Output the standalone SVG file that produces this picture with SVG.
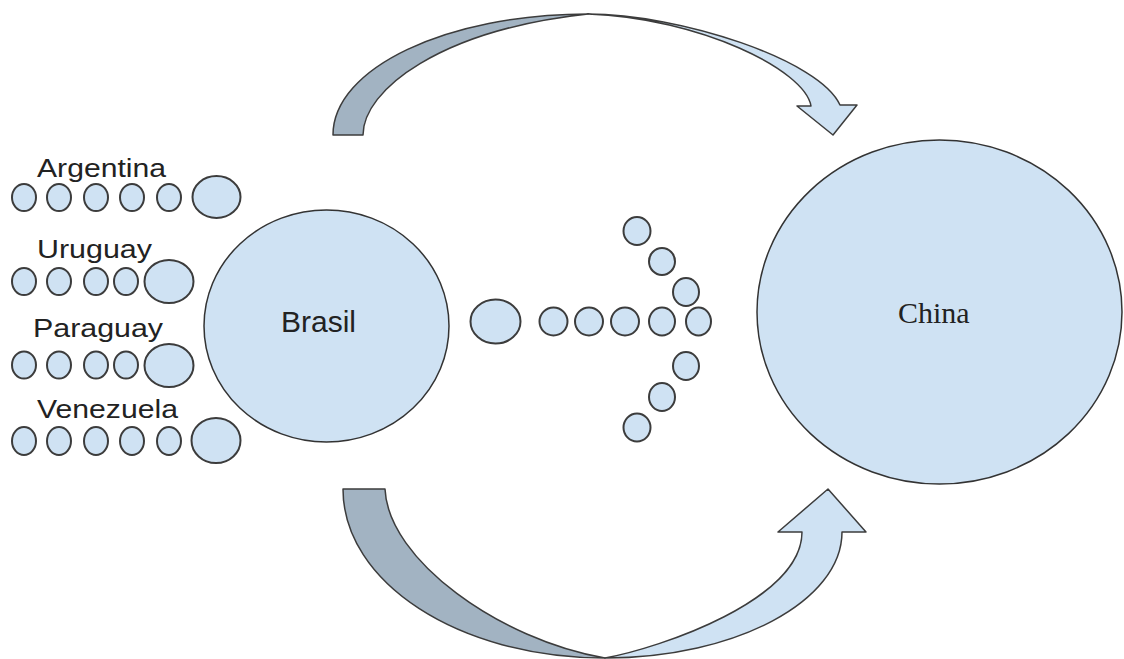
<svg xmlns="http://www.w3.org/2000/svg" width="1124" height="659" viewBox="0 0 1124 659">
<style>
.c{fill:#cfe2f3;stroke:#3c3c3c;stroke-width:2}
.big{fill:#cfe2f3;stroke:#333;stroke-width:1.5}
.dk{fill:#a2b3c2;stroke:#3c3c3c;stroke-width:1.5;stroke-linejoin:round}
.lt{fill:#cfe2f3;stroke:#3c3c3c;stroke-width:1.5;stroke-linejoin:round}
.lbl{font-family:"Liberation Sans",Arial,sans-serif;font-size:25px;fill:#222}
</style>
<rect width="1124" height="659" fill="#fff"/>
<g id="connectors">
  <path class="dk" d="M333,135 C333,68 447,14 588,14 C440,30 363,90 363,135 Z"/>
  <path class="lt" d="M588,14 C680,14 820,60 840,105 L857,105 L833,135 L797,106 L811,106 C805,70 700,18 588,14 Z"/>
  <path class="dk" d="M343,489 C343,582 458,658 605,658 C500,640 388,560 385,489 Z"/>
  <path class="lt" d="M605,658 C736,658 842,601 842,532 L866,532 L828,489 L778,532 L802,532 C802,600 660,648 605,658 Z"/>
</g>
<g id="argentina">
  <text class="lbl" x="37" y="177" textLength="129" lengthAdjust="spacingAndGlyphs">Argentina</text>
  <ellipse class="c" cx="24" cy="197.5" rx="12" ry="13.5"/>
  <ellipse class="c" cx="59" cy="197.5" rx="12" ry="13.5"/>
  <ellipse class="c" cx="96" cy="197.5" rx="12" ry="13.5"/>
  <ellipse class="c" cx="132" cy="197.5" rx="12" ry="13.5"/>
  <ellipse class="c" cx="169" cy="197.5" rx="12" ry="13.5"/>
  <ellipse class="c" cx="216.5" cy="197" rx="24" ry="21"/>
</g>
<g id="uruguay">
  <text class="lbl" x="37" y="258" textLength="115" lengthAdjust="spacingAndGlyphs">Uruguay</text>
  <ellipse class="c" cx="24" cy="281.5" rx="12" ry="13.5"/>
  <ellipse class="c" cx="59" cy="281.5" rx="12" ry="13.5"/>
  <ellipse class="c" cx="96" cy="281.5" rx="12" ry="13.5"/>
  <ellipse class="c" cx="126" cy="281.5" rx="12" ry="13.5"/>
  <ellipse class="c" cx="169" cy="281.5" rx="24.5" ry="21.5"/>
</g>
<g id="paraguay">
  <text class="lbl" x="33" y="337" textLength="130" lengthAdjust="spacingAndGlyphs">Paraguay</text>
  <ellipse class="c" cx="24" cy="365" rx="12" ry="13.5"/>
  <ellipse class="c" cx="59" cy="365" rx="12" ry="13.5"/>
  <ellipse class="c" cx="96" cy="365" rx="12" ry="13.5"/>
  <ellipse class="c" cx="126" cy="365" rx="12" ry="13.5"/>
  <ellipse class="c" cx="169" cy="365.5" rx="24.5" ry="21.5"/>
</g>
<g id="venezuela">
  <text class="lbl" x="37" y="418" textLength="141" lengthAdjust="spacingAndGlyphs">Venezuela</text>
  <ellipse class="c" cx="24" cy="441" rx="12" ry="14"/>
  <ellipse class="c" cx="59" cy="441" rx="12" ry="14"/>
  <ellipse class="c" cx="96" cy="441" rx="12" ry="14"/>
  <ellipse class="c" cx="132" cy="441" rx="12" ry="14"/>
  <ellipse class="c" cx="169" cy="441" rx="12" ry="14"/>
  <ellipse class="c" cx="216" cy="440.5" rx="24.5" ry="22.5"/>
</g>
<g id="brasil">
  <ellipse class="big" cx="326.5" cy="326" rx="122.5" ry="116"/>
  <text x="281" y="332" font-family="Liberation Sans, Arial, sans-serif" font-size="30" fill="#222">Brasil</text>
</g>
<g id="dots">
  <ellipse class="c" cx="495.5" cy="321.5" rx="25" ry="22"/>
  <ellipse class="c" cx="553.5" cy="321.5" rx="14" ry="14"/>
  <ellipse class="c" cx="589" cy="321.5" rx="14" ry="14"/>
  <ellipse class="c" cx="625" cy="321.5" rx="14" ry="14"/>
  <ellipse class="c" cx="662" cy="321.5" rx="13" ry="14"/>
  <ellipse class="c" cx="698.5" cy="321.5" rx="12.5" ry="14"/>
  <ellipse class="c" cx="637" cy="231" rx="13.5" ry="14"/>
  <ellipse class="c" cx="662" cy="261.5" rx="13" ry="13.5"/>
  <ellipse class="c" cx="686" cy="292" rx="13" ry="14"/>
  <ellipse class="c" cx="686" cy="366" rx="13" ry="14"/>
  <ellipse class="c" cx="662" cy="397" rx="13" ry="14"/>
  <ellipse class="c" cx="637" cy="427.5" rx="13.5" ry="14"/>
</g>
<g id="china">
  <ellipse class="big" cx="939.5" cy="312" rx="182.5" ry="172"/>
  <text x="898" y="323" font-family="Liberation Serif, Times New Roman, serif" font-size="30" fill="#222">China</text>
</g>
</svg>
